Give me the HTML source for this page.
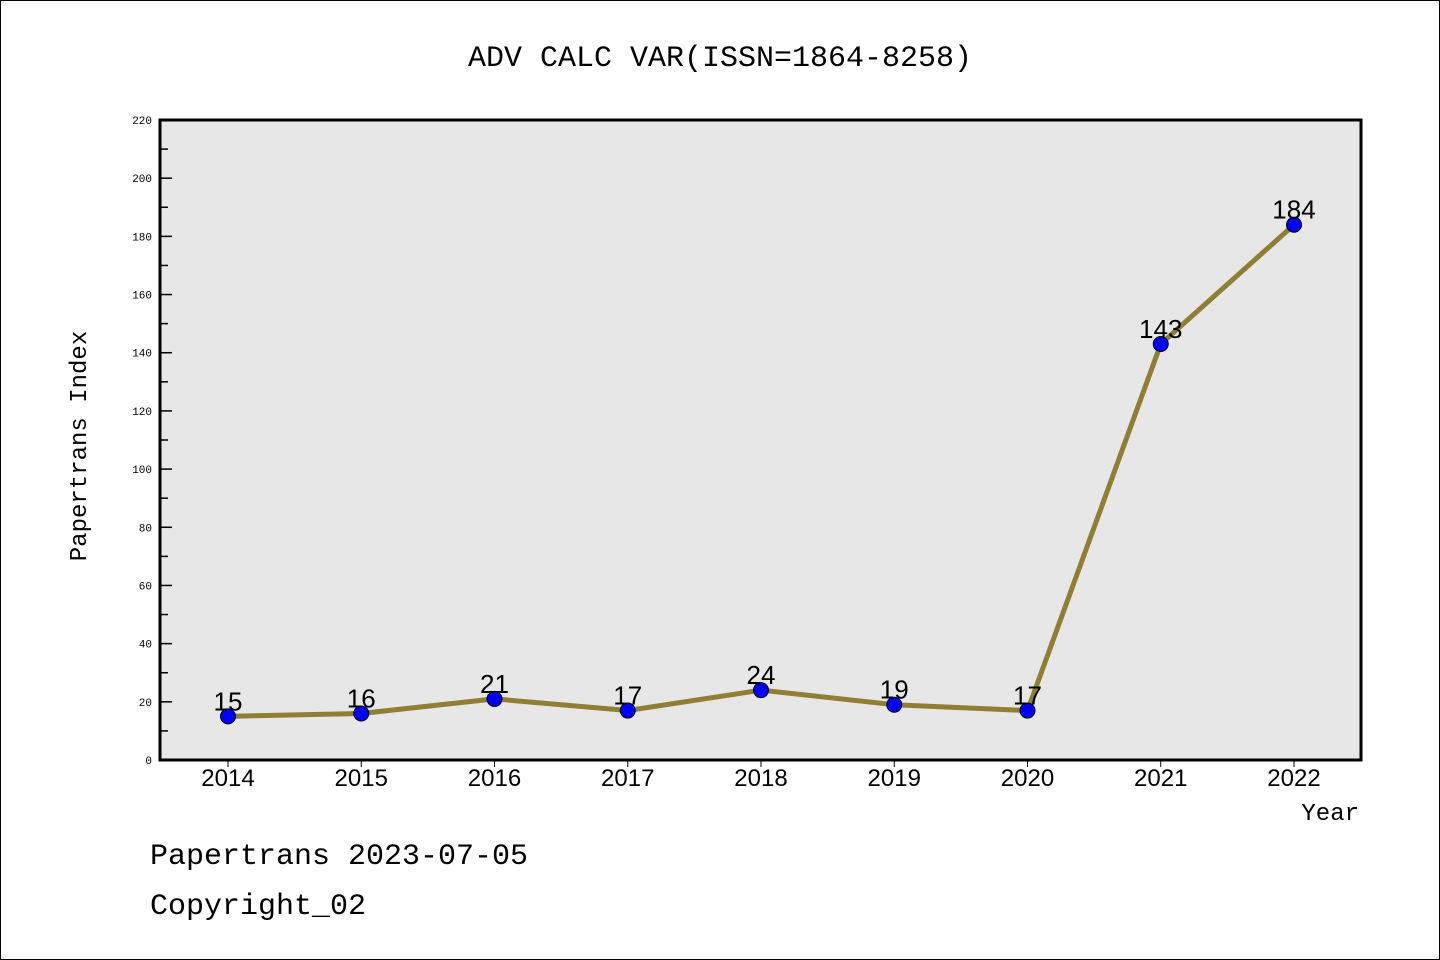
<!DOCTYPE html>
<html><head><meta charset="utf-8"><style>
body{margin:0;background:#fff;}
svg{display:block;font-family:"Liberation Mono","DejaVu Sans Mono",monospace;}
</style></head><body>
<svg width="1440" height="960" viewBox="0 0 1440 960">
<rect x="0.5" y="0.5" width="1439" height="959" fill="#fff" stroke="#000" stroke-width="1"/>
<text x="720" y="66" text-anchor="middle" font-size="30">ADV CALC VAR(ISSN=1864-8258)</text>
<rect x="160" y="120" width="1201" height="640" fill="#e7e7e7"/>
<g id="axes"></g>
<g id="series"></g>
<rect x="160" y="120" width="1201" height="640" fill="none" stroke="#000" stroke-width="3"/>
<text x="86" y="446" text-anchor="middle" font-size="24" transform="rotate(-90 86 446)">Papertrans Index</text>
<text x="1359" y="820" text-anchor="end" font-size="24">Year</text>
<text x="150" y="864" font-size="30">Papertrans 2023-07-05</text>
<text x="150" y="914" font-size="30">Copyright_02</text>
</svg>
<script>
const categories=["2014","2015","2016","2017","2018","2019","2020","2021","2022"];
const values=[15,16,21,17,24,19,17,143,184];
const yTicks=[0,20,40,60,80,100,120,140,160,180,200,220];
const NS="http://www.w3.org/2000/svg";
const x0=228,x1=1294,yMin=0,yMax=220,py0=760,py1=120;
function xs(i){return x0+(x1-x0)*i/(categories.length-1);}
function ys(v){return py0-(v-yMin)/(yMax-yMin)*(py0-py1);}
function mk(tag,attrs,parent){const e=document.createElementNS(NS,tag);for(const k in attrs)e.setAttribute(k,attrs[k]);parent.appendChild(e);return e;}
const ax=document.getElementById('axes');
yTicks.forEach(v=>{
 const y=ys(v);
 const t=mk('line',{x1:160,x2:172,y1:y,y2:y,stroke:'#000','stroke-width':1.5},ax);
 
 
 const l=mk('text',{x:152,y:y+4,'text-anchor':'end','font-size':11},ax);
 l.textContent=v;
 
 
 if(v<yMax){const ym=ys(v+10);
  const m=mk('line',{x1:160,x2:168,y1:ym,y2:ym,stroke:'#000','stroke-width':1.5},ax);
  
  }
});
categories.forEach((c,i)=>{
 const x=xs(i);
 const t=mk('line',{x1:x,x2:x,y1:760,y2:767,stroke:'#000','stroke-width':1},ax);
 
 
 const l=mk('text',{x:x,y:786,'text-anchor':'middle','font-size':24,'font-family':'Liberation Sans, sans-serif'},ax);
 l.textContent=c;
 
 
});
const sg=document.getElementById('series');
const pts=values.map((v,i)=>xs(i)+','+ys(v)).join(' ');
const pl=mk('polyline',{points:pts,fill:'none',stroke:'#8f7f33','stroke-width':5,'stroke-linejoin':'round'},sg);


values.forEach((v,i)=>{
 const c=mk('circle',{cx:xs(i),cy:ys(v),r:7.5,fill:'#0000ff',stroke:'#000','stroke-width':1},sg);
 
 
 const l=mk('text',{x:xs(i),y:ys(v)-6,'text-anchor':'middle','font-size':26,'font-family':'Liberation Sans, sans-serif'},sg);
 l.textContent=v;
 
 
});
</script>
</body></html>
